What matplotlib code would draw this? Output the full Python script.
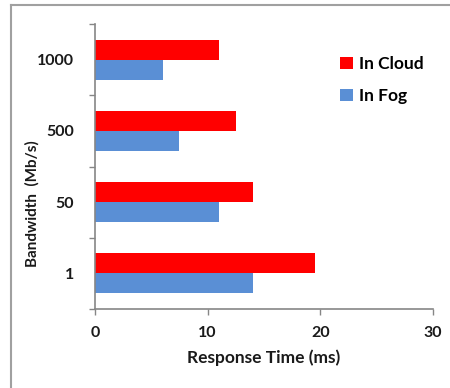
import numpy as np
import matplotlib
matplotlib.use('Agg')
import matplotlib.pyplot as plt
from matplotlib.lines import Line2D

# response times per bandwidth setting (ms)
bandwidths = ['1', '50', '500', '1000']
cloud_ms = [19.5, 14.0, 12.5, 11.0]
fog_ms = [14.0, 11.0, 7.5, 6.0]
x_ticks = [0, 10, 20, 30]

plt.rcParams['font.family'] = ['Lato', 'DejaVu Sans']
plt.rcParams['font.weight'] = 'bold'

CLOUD_RED = '#ff0000'
FOG_BLUE = '#5a8fd5'
AXIS_GRAY = '#868686'
TEXT = '#1a1a1a'

fig = plt.figure(figsize=(4.5, 3.88), dpi=100)
ax = fig.add_axes([0.211, 0.2036, 0.751, 0.7345])

y = np.arange(len(bandwidths))
h = 0.28
ax.barh(y + h / 2, cloud_ms, height=h, color=CLOUD_RED, label='In Cloud')
ax.barh(y - h / 2, fog_ms, height=h, color=FOG_BLUE, label='In Fog')

ax.set_xlim(0, 30)
ax.set_ylim(-0.5, len(bandwidths) - 0.5)

# tick marks between categories, labels at category centres
ax.set_yticks(np.arange(-0.5, len(bandwidths)), labels=[])
ax.set_yticks(y, labels=bandwidths, minor=True)
ax.tick_params(axis='y', which='major', length=4.5, width=1, color=AXIS_GRAY)
ax.tick_params(axis='y', which='minor', length=0, pad=15, labelsize=11.5,
               labelcolor=TEXT)
ax.set_xticks(x_ticks)
ax.tick_params(axis='x', length=4, width=1, color=AXIS_GRAY, pad=8,
               labelsize=11.5, labelcolor=TEXT)

for side in ('top', 'right'):
    ax.spines[side].set_visible(False)
for side in ('left', 'bottom'):
    ax.spines[side].set_color(AXIS_GRAY)
    ax.spines[side].set_linewidth(1.2)

ax.set_xlabel('Response Time (ms)', fontsize=12.5, fontweight='bold',
              color=TEXT, labelpad=7)
ax.set_ylabel('Bandwidth  (Mb/s)', fontsize=11, fontweight='bold',
              color=TEXT)
ax.yaxis.set_label_coords(-0.165, 0.37)

handles, labels = ax.get_legend_handles_labels()
ax.legend(handles, labels, loc='upper left', bbox_to_anchor=(0.68, 0.943),
          frameon=False, handlelength=0.7, handleheight=0.7,
          handletextpad=0.35, labelspacing=0.95,
          prop={'weight': 'bold', 'size': 12.5})

# outer frame: left and top edges only
fig.add_artist(Line2D([0.024, 0.024], [0, 0.987], transform=fig.transFigure,
                      color='#a0a0a0', lw=1.5))
fig.add_artist(Line2D([0.024, 1.0], [0.987, 0.987], transform=fig.transFigure,
                      color='#a0a0a0', lw=1.5))

fig.savefig('out.png', dpi=100, facecolor='white')
